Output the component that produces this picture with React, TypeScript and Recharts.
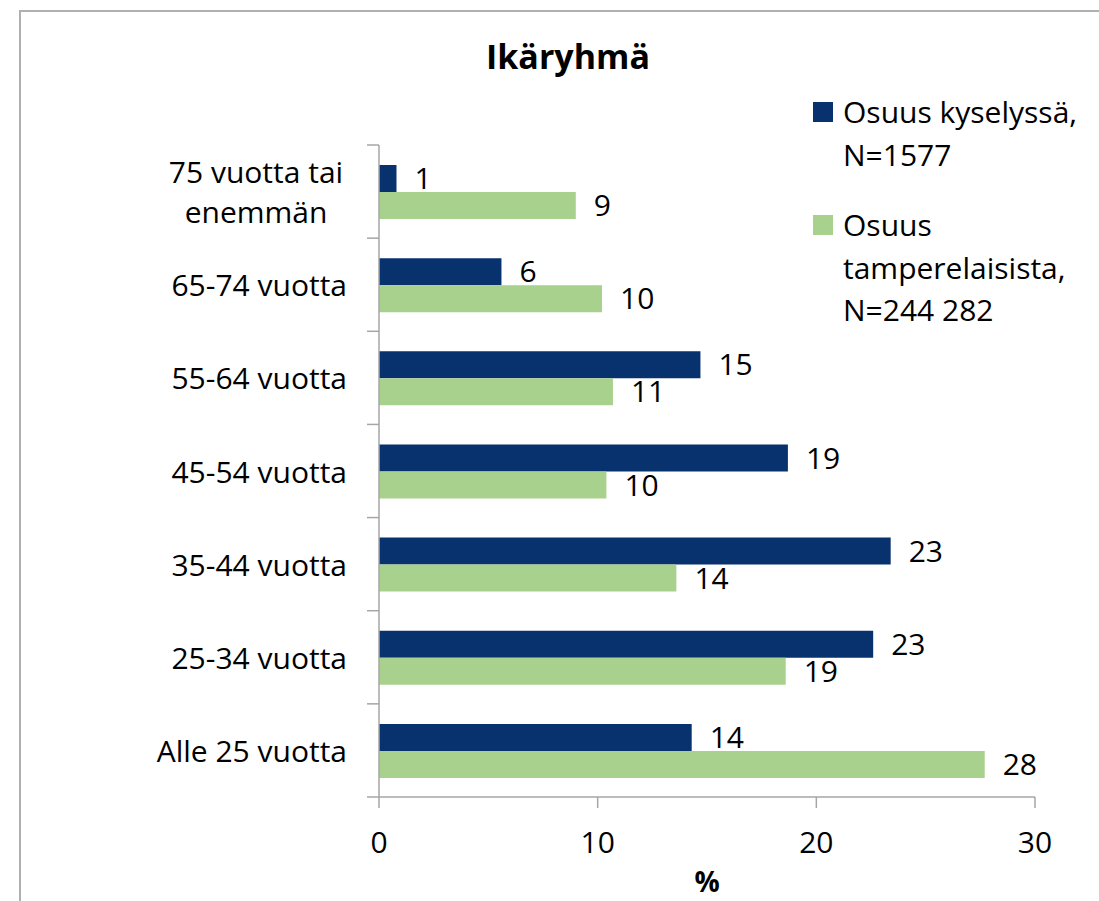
import React from 'react';
import { BarChart, Bar, XAxis, YAxis, Legend, LabelList } from 'recharts';

const categories = [
  '75 vuotta tai enemmän',
  '65-74 vuotta',
  '55-64 vuotta',
  '45-54 vuotta',
  '35-44 vuotta',
  '25-34 vuotta',
  'Alle 25 vuotta',
];
const kyselyssa = [0.8, 5.6, 14.7, 18.7, 23.4, 22.6, 14.3];
const tamperelaisista = [9.0, 10.2, 10.7, 10.4, 13.6, 18.6, 27.7];
const seriesNames = ['Osuus kyselyssä, N=1577', 'Osuus tamperelaisista, N=244 282'];
const xTicks = [0, 10, 20, 30];
const title = 'Ikäryhmä';
const xLabel = '%';

const data = categories.map((c, i) => ({
  name: c,
  kysely: kyselyssa[i],
  tampere: tamperelaisista[i],
}));

const FONT = '"Open Sans", "Noto Sans", sans-serif';
const BLUE = '#08326e';
const GREEN = '#a9d18e';
const AXIS = '#a6a6a6';

const CHART_W = 1099;
const CHART_H = 901;
const MARGIN = { top: 145, right: 64, bottom: 44, left: 39 };
const X_AXIS_H = 60;
const Y_AXIS_W = 340;
const LABEL_GAP = 32;
const TICK_LEN = 12;
const PLOT_H = CHART_H - MARGIN.top - MARGIN.bottom - X_AXIS_H;

const wrapWords = (s: string, maxChars: number): string[] => {
  if (s.length <= 16) return [s];
  const words = s.split(' ');
  const lines: string[] = [];
  let cur = '';
  words.forEach((w) => {
    const t = cur ? cur + ' ' + w : w;
    if (t.length > maxChars && cur) {
      lines.push(cur);
      cur = w;
    } else cur = t;
  });
  if (cur) lines.push(cur);
  return lines;
};

const CategoryTick = (props: any) => {
  const { x, y, payload, index } = props;
  const band = PLOT_H / categories.length;
  const axisX = x + LABEL_GAP;
  const lines = wrapWords(String(payload.value), 13);
  const tickLines = (
    <>
      <line x1={axisX - TICK_LEN} x2={axisX} y1={y - band / 2} y2={y - band / 2} stroke={AXIS} strokeWidth={1.5} />
      {index === categories.length - 1 && (
        <line x1={axisX - TICK_LEN} x2={axisX} y1={y + band / 2} y2={y + band / 2} stroke={AXIS} strokeWidth={1.5} />
      )}
    </>
  );
  if (lines.length === 1) {
    return (
      <g>
        {tickLines}
        <text x={x} y={y} textAnchor="end" dominantBaseline="central" fontSize={30} fontFamily={FONT} fill="#000">
          {lines[0]}
        </text>
      </g>
    );
  }
  const maxLen = Math.max(...lines.map((l) => l.length));
  const cx = x - (maxLen * 14) / 2;
  const lh = 40;
  return (
    <g>
      {tickLines}
      {lines.map((l, i) => (
        <text
          key={i}
          x={cx}
          y={y + (i - (lines.length - 1) / 2) * lh}
          textAnchor="middle"
          dominantBaseline="central"
          fontSize={30}
          fontFamily={FONT}
          fill="#000"
        >
          {l}
        </text>
      ))}
    </g>
  );
};

const LegendContent = (props: any) => {
  const { payload } = props;
  return (
    <div style={{ fontFamily: FONT, fontSize: 30, color: '#000' }}>
      {(payload || []).map((p: any, i: number) => (
        <div key={i} style={{ display: 'flex', alignItems: 'flex-start', marginBottom: 28 }}>
          <div style={{ width: 20, height: 20, background: p.color, marginTop: 11, marginRight: 10, flex: 'none' }} />
          <div style={{ width: 245, lineHeight: '42.5px' }}>{p.value}</div>
        </div>
      ))}
    </div>
  );
};

export default function App() {
  return (
    <div style={{ position: 'absolute', left: 0, top: 0, width: CHART_W, height: CHART_H, overflow: 'hidden', background: '#fff' }}>
      <div
        style={{
          position: 'absolute',
          left: 19,
          top: 10,
          width: 1200,
          height: 1000,
          borderLeft: '2px solid #b0b0b0',
          borderTop: '2px solid #b0b0b0',
        }}
      />
      <div
        style={{
          position: 'absolute',
          left: 368,
          width: 400,
          top: 33,
          textAlign: 'center',
          fontFamily: FONT,
          fontWeight: 700,
          fontSize: 34,
          color: '#000',
        }}
      >
        {title}
      </div>
      <div style={{ position: 'absolute', left: 0, top: 0 }}>
        <BarChart
          width={CHART_W}
          height={CHART_H}
          data={data}
          layout="vertical"
          margin={MARGIN}
          barCategoryGap="21.5%"
          barGap={0}
        >
          <YAxis
            type="category"
            dataKey="name"
            width={Y_AXIS_W}
            tick={<CategoryTick />}
            tickLine={false}
            tickSize={0}
            tickMargin={LABEL_GAP}
            axisLine={{ stroke: AXIS, strokeWidth: 1.5 }}
            interval={0}
          />
          <XAxis
            type="number"
            domain={[0, 30]}
            ticks={xTicks}
            height={X_AXIS_H}
            tickSize={11}
            tickMargin={24}
            axisLine={{ stroke: AXIS, strokeWidth: 1.5 }}
            tickLine={{ stroke: AXIS, strokeWidth: 1.5 }}
            tick={{ fontSize: 30, fontFamily: FONT, fill: '#000' }}
            label={{ value: xLabel, position: 'bottom', offset: 15, fontSize: 28, fontWeight: 700, fontFamily: FONT, fill: '#000' }}
          />
          <Legend
            layout="vertical"
            align="center"
            verticalAlign="middle"
            content={<LegendContent />}
            wrapperStyle={{ left: 813, top: 91, width: 285 }}
          />
          <Bar dataKey="kysely" name={seriesNames[0]} fill={BLUE} isAnimationActive={false}>
            <LabelList
              dataKey="kysely"
              position="right"
              offset={18}
              formatter={(v: any) => Math.round(Number(v))}
              style={{ fontSize: 30, fontFamily: FONT, fill: '#000' }}
            />
          </Bar>
          <Bar dataKey="tampere" name={seriesNames[1]} fill={GREEN} isAnimationActive={false}>
            <LabelList
              dataKey="tampere"
              position="right"
              offset={18}
              formatter={(v: any) => Math.round(Number(v))}
              style={{ fontSize: 30, fontFamily: FONT, fill: '#000' }}
            />
          </Bar>
        </BarChart>
      </div>
    </div>
  );
}
